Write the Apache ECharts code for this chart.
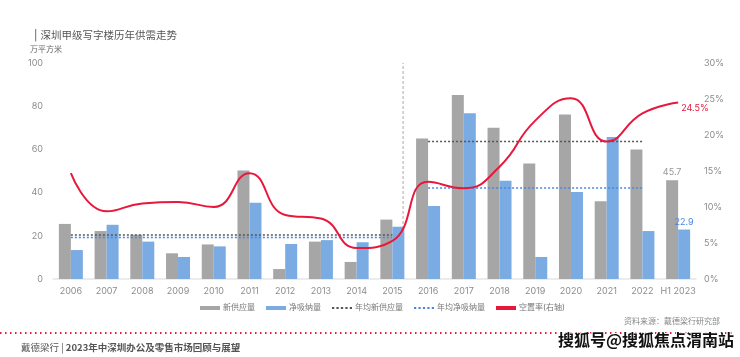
<!DOCTYPE html>
<html><head><meta charset="utf-8">
<script src="https://cdn.jsdelivr.net/npm/echarts@6/dist/echarts.min.js"></script>
<style>html,body{margin:0;padding:0;background:#fff}#c{width:740px;height:357px}</style>
</head><body><div id="c"></div>
<script>
const categories = ['2006','2007','2008','2009','2010','2011','2012','2013','2014','2015','2016','2017','2018','2019','2020','2021','2022','H1 2023'];
const newSupply = [25.5,22.2,20.5,11.9,16.0,50.2,4.6,17.3,7.9,27.5,65.0,85.2,70.0,53.5,76.2,36.0,59.9,45.7];
const netAbsorption = [13.4,25.1,17.3,10.2,15.1,35.3,16.2,18.0,17.0,24.2,33.8,76.7,45.5,10.2,40.3,65.7,22.2,22.9];
const vacancy = [14.7,9.4,10.5,10.7,10.0,14.7,8.9,8.4,4.3,5.3,13.5,12.6,15.6,22.0,25.1,19.1,23.0,24.5];
const avgSupply = [20.4, 63.6];
const avgAbsorption = [19.2, 42.1];
const periods = [['2006','2015'],['2016','2022']];
const dividerPos = 9.3;

const FONT = 'Inter, "Noto Sans CJK SC", sans-serif';
const GRAY = '#a6a6a6', BLUE = '#7aabe2', RED = '#e8173c', TXT = '#8c8c8c';
const DOT_GRAY = '#555', DOT_BLUE = '#4a86e0';
const last = categories.length - 1;

function periodSeries(name, vals, color){
  return vals.map((v, p) => {
    const a = categories.indexOf(periods[p][0]), b = categories.indexOf(periods[p][1]);
    return {name:name, type:'line', symbol:'none', silent:true, z:3,
      data: categories.map((c,i)=> (i>=a && i<=b) ? v : null),
      lineStyle:{color:color, type:[2,2], width:1.5}, itemStyle:{color:color}};
  });
}
const dotIcon = 'path://M0,4h2v2h-2zM4,4h2v2h-2zM8,4h2v2h-2zM12,4h2v2h-2zM16,4h2v2h-2z';

const chart = echarts.init(document.getElementById('c'));
chart.setOption({
  animation:false,
  textStyle:{fontFamily:FONT},
  title:{text:'| 深圳甲级写字楼历年供需走势', left:29, top:26,
    textStyle:{fontSize:10.5, color:'#555', fontWeight:'normal', fontFamily:FONT}},
  grid:{left:53, right:44, top:63, bottom:78},
  legend:{bottom:40, left:195, itemGap:11, itemWidth:20, itemHeight:4,
    textStyle:{fontSize:8, color:'#777', fontFamily:FONT, padding:[0,0,0,-2]},
    data:[
      {name:'新供应量', icon:'rect'},
      {name:'净吸纳量', icon:'rect'},
      {name:'年均新供应量', icon:dotIcon, itemStyle:{color:DOT_GRAY}},
      {name:'年均净吸纳量', icon:dotIcon, itemStyle:{color:DOT_BLUE}},
      {name:'空置率(右轴)', icon:'rect', itemStyle:{color:RED}}
    ]},
  xAxis:[
    {type:'category', data:categories, boundaryGap:true,
     axisLine:{lineStyle:{color:'#e6e6e6', width:1.5}}, axisTick:{show:false},
     axisLabel:{color:TXT, fontSize:9, margin:8, interval:0, fontFamily:FONT}},
    {type:'value', min:-0.5, max:17.5, show:false}
  ],
  yAxis:[
    {type:'value', min:0, max:100, interval:20,
     axisLine:{show:false}, axisTick:{show:false}, splitLine:{show:false},
     axisLabel:{color:TXT, fontSize:9, margin:10, fontFamily:FONT}},
    {type:'value', min:0, max:30, interval:5, position:'right',
     axisLine:{show:false}, axisTick:{show:false}, splitLine:{show:false},
     axisLabel:{color:TXT, fontSize:9, margin:8, formatter:'{value}%', fontFamily:FONT}}
  ],
  graphic:[
    {type:'text', left:30, top:45, style:{text:'万平方米', fill:'#666', font:'8px "Noto Sans CJK SC"'}},
    {type:'line', shape:{x1:0, y1:333, x2:732, y2:333},
     style:{stroke:'#e8173c', lineWidth:2, lineDash:[1.5,3.5]}},
    {type:'text', right:20, top:317, style:{text:'资料来源：戴德梁行研究部', fill:'#888', font:'8px "Noto Sans CJK SC"'}},
    {type:'text', left:21, top:343, style:{text:'{a|戴德梁行 | }{b|2023年中深圳办公及零售市场回顾与展望}',
      rich:{a:{fill:'#555', font:'9.5px "Noto Sans CJK SC"'}, b:{fill:'#555', font:'bold 9.5px "Noto Sans CJK SC"'}}}},
    {type:'text', left:557, top:331, style:{text:'搜狐号@搜狐焦点渭南站', fill:'#111',
      font:'bold 16px "Noto Sans CJK SC"', stroke:'#fff', lineWidth:2}}
  ],
  series:[
    {name:'新供应量', type:'bar', barWidth:12, barGap:'0%', itemStyle:{color:GRAY},
     data:newSupply.map((v,i)=> i===last ? {value:v, label:{show:true, position:'top', color:'#999', fontSize:9, distance:3}} : v)},
    {name:'净吸纳量', type:'bar', barWidth:12, itemStyle:{color:BLUE},
     data:netAbsorption.map((v,i)=> i===last ? {value:v, label:{show:true, position:'top', color:DOT_BLUE, fontSize:9, distance:3}} : v)},
    ...periodSeries('年均新供应量', avgSupply, DOT_GRAY),
    ...periodSeries('年均净吸纳量', avgAbsorption, DOT_BLUE),
    {name:'空置率(右轴)', type:'line', yAxisIndex:1, smooth:0.5, symbol:'none',
     lineStyle:{color:RED, width:2}, itemStyle:{color:RED}, z:5, data:vacancy,
     endLabel:{show:true, formatter:p=>p.value+'%', color:RED, fontSize:9, distance:3, offset:[0,6]}},
    {name:'divider', type:'line', xAxisIndex:1, yAxisIndex:0,
     data:[[dividerPos,0],[dividerPos,100]], symbol:'none', silent:true,
     lineStyle:{color:'#aaa', type:[3,2], width:1}, z:1}
  ]
});
</script></body></html>
